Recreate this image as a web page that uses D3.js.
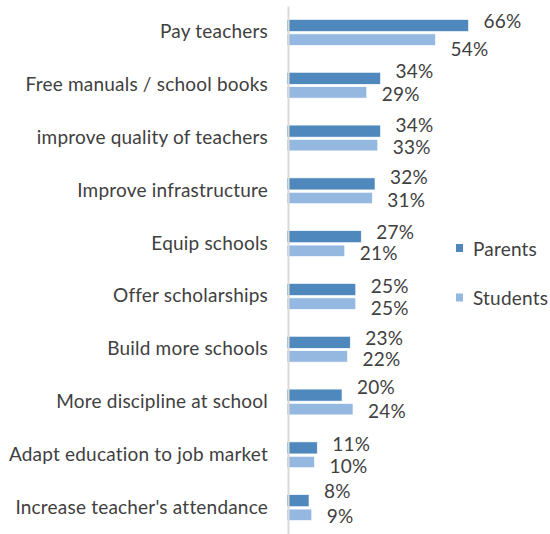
<!DOCTYPE html>
<html>
<head>
<meta charset="utf-8">
<script src="https://cdn.jsdelivr.net/npm/d3@7"></script>
<style>
  html, body { margin: 0; padding: 0; background: #fff; }
  svg { display: block; }
  text { font-family: Lato, "Open Sans", sans-serif; fill: #404040; letter-spacing: 0.2px; }
</style>
</head>
<body>
<svg id="chart" width="550" height="534"></svg>
<script>
// Survey answers: share of respondents choosing each priority
const categories = [
  "Pay teachers",
  "Free manuals / school books",
  "improve quality of teachers",
  "Improve infrastructure",
  "Equip schools",
  "Offer scholarships",
  "Build more schools",
  "More discipline at school",
  "Adapt education to job market",
  "Increase teacher's attendance"
];
const parents  = [66, 34, 34, 32, 27, 25, 23, 20, 11, 8];
const students = [54, 29, 33, 31, 21, 25, 22, 24, 10, 9];
const seriesNames = ["Parents", "Students"];

// Vertical nudges of the value labels (px from the category centre)
const parentsLabelShift  = [-12, -15, -13.5, -14, -12, -11, -12, -16, -11, -17];
const studentsLabelShift = [16.5, 8, 8.7, 9, 9, 11, 9.3, 8.5, 11, 8];

const colors = { Parents: "#4f88bc", Students: "#95b8e0" };
const fontSize = 19;

const svg = d3.select("#chart");
const axisX = 288;

const y = d3.scaleBand().domain(categories).range([6, 534]);
const x = d3.scaleLinear().domain([0, 66]).range([287, 287 + 66 * 2.75]);

const rows = categories.map((c, i) => ({
  cat: c, p: parents[i], s: students[i],
  pShift: parentsLabelShift[i], sShift: studentsLabelShift[i]
}));

const g = svg.append("g");
const row = g.selectAll("g.row").data(rows).join("g")
  .attr("class", "row")
  .attr("transform", d => `translate(0,${y(d.cat) + y.bandwidth() / 2})`);

// Parents bars
row.append("rect")
  .attr("x", x(0))
  .attr("y", -12.9)
  .attr("width", d => x(d.p) - x(0))
  .attr("height", 12)
  .attr("fill", colors.Parents)
  .attr("stroke", "#ffffff").attr("stroke-width", 0.6);

// Students bars
row.append("rect")
  .attr("x", x(0))
  .attr("y", 1.5)
  .attr("width", d => x(d.s) - x(0))
  .attr("height", 11.4)
  .attr("fill", colors.Students)
  .attr("stroke", "#ffffff").attr("stroke-width", 0.6);

// Value labels
row.append("text")
  .attr("x", d => x(d.p) + 15)
  .attr("y", d => d.pShift)
  .attr("dominant-baseline", "central")
  .style("font-size", fontSize + "px")
  .text(d => d.p + "%");

row.append("text")
  .attr("x", d => x(d.s) + 15)
  .attr("y", d => d.sShift)
  .attr("dominant-baseline", "central")
  .style("font-size", fontSize + "px")
  .text(d => d.s + "%");

// Category axis
const axis = svg.append("g")
  .attr("transform", `translate(${axisX},0)`)
  .call(d3.axisLeft(y).tickSize(0).tickSizeOuter(0).tickPadding(20));
axis.select(".domain").attr("stroke", "#d9d9d9").attr("stroke-width", 2);
axis.selectAll(".tick text")
  .attr("fill", "#404040")
  .style("font-family", 'Lato, "Open Sans", sans-serif')
  .style("font-size", fontSize + "px");

// Legend
const legend = svg.append("g").attr("transform", "translate(456,248)");
const item = legend.selectAll("g").data(seriesNames).join("g")
  .attr("transform", (d, i) => `translate(0,${i * 49.5})`);
item.append("rect")
  .attr("x", 0).attr("y", -4)
  .attr("width", 7).attr("height", 8)
  .attr("fill", d => colors[d]);
item.append("text")
  .attr("x", 17).attr("y", 0)
  .attr("dominant-baseline", "central")
  .style("font-size", fontSize + "px")
  .text(d => d);
</script>
</body>
</html>
